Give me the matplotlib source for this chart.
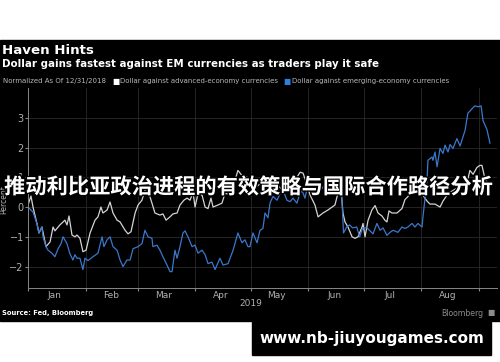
import numpy as np
import pandas as pd
import matplotlib
matplotlib.use('Agg')
import matplotlib.pyplot as plt
import matplotlib.dates as mdates
import matplotlib.patheffects as pe
from matplotlib.patches import Rectangle

# days since 2018-12-31 close and % change
adv_days = [0, 1.6, 2.7, 4.8, 5.9, 7.5, 9.7, 11.9, 13.5, 14.5, 17.2, 19.9, 21, 22.1, 23.7,
            25.3, 26.4, 28, 29.6, 31.3, 33.4, 36.1, 37.7, 39.3, 40.4, 42.6, 44.2, 45.8, 48,
            49.6, 52.3, 53.9, 55.5, 57.7, 59.3, 61.4, 63, 65.2, 66.8, 68.4, 71.1, 72.7, 74.4,
            76.5, 78.1, 80.3, 81.9, 84, 85.7, 87.3, 88.9, 90, 91.6, 93.8, 95.4, 97, 98.6,
            99.7, 102.4, 104.5, 106.1, 108.8, 110.5, 113.1, 115.3, 118, 119.6, 123.4, 126.6,
            130.4, 134.2, 137.4, 141.2, 143.9, 146.6, 148.2, 150.4, 152, 154.6, 156.3, 158.9,
            161.6, 165.4, 167, 168.6, 169.7, 170.8, 172.4, 174.6, 176.2, 177.8, 180, 180.5,
            181.6, 183.2, 185.3, 187, 188.6, 190.7, 192.4, 193.4, 194.5, 196.1, 198.8, 201.5,
            203.1, 204.7, 206.9, 210.1, 212.8, 215, 216.6, 219.3, 222, 223.6, 226.3, 230.1,
            233.8, 236.5, 238.1, 239.8, 241.9, 243.5, 244.6, 246.2, 247.8, 248.9]
adv_vals = [0.07, 0.37, 0.0, -0.55, -0.87, -0.67, -1.33, -1.17, -0.67, -0.8, -0.6, -0.44, -0.6,
            -0.3, -0.94, -1.0, -0.94, -1.05, -1.5, -1.45, -0.88, -0.44, -0.33, 0.0, -0.2, -0.1,
            0.17, -0.2, -0.44, -0.5, -0.78, -0.9, -0.83, -0.2, 0.07, 0.23, 0.57, 0.45, 0.13,
            -0.2, -0.27, -0.23, -0.44, -0.33, -0.23, -0.2, 0.07, 0.23, 0.3, 0.23, 0.5, 0.0,
            0.45, 0.4, 0.0, -0.05, 0.3, 0.0, 0.07, 0.13, 0.45, 0.45, 0.67, 1.23, 1.06, 1.0,
            0.9, 0.7, 0.85, 0.6, 0.75, 0.55, 0.8, 0.9, 1.17, 1.14, 0.74, 0.4, 0.07, -0.33,
            -0.2, -0.1, 0.07, 0.47, 0.67, -0.2, -0.5, -0.67, -1.0, -1.05, -1.0, -0.67, -0.55,
            -1.0, -0.45, -0.1, 0.05, -0.2, -0.3, -0.45, -0.5, -0.13, -0.2, -0.2, -0.05, 0.25,
            0.35, 0.57, 0.6, 0.4, 0.2, 0.1, 0.1, 0.0, 0.2, 0.45, 0.6, 0.7, 0.8, 1.23, 1.1,
            1.33, 1.4, 1.4, 0.95, 0.8, 0.7]

em_days = [0, 2.7, 4.8, 5.9, 7.5, 8.1, 9.7, 10.8, 12.9, 14.5, 16.2, 17.8, 18.9, 21, 22.6,
           24.2, 25.3, 26.4, 28, 29.6, 30.7, 32.3, 35, 37.7, 39.9, 40.9, 42.6, 44.2, 45.8, 48,
           49.6, 51.2, 53.3, 55, 56.6, 59.3, 61.4, 63, 64.7, 66.8, 67.3, 69.5, 71.1, 72.7,
           74.9, 76.5, 77.6, 79.2, 80.3, 81.9, 83.5, 84.6, 86.2, 88.4, 90, 91.6, 93.8, 95.4,
           97, 99.1, 100.8, 103.4, 105.1, 107.8, 110.5, 113.1, 115.3, 116.9, 118.5, 119.6,
           121.2, 123.4, 125, 126.6, 127.7, 129.3, 130.4, 132, 134.2, 135.8, 137.4, 139.5,
           141.2, 142.8, 144.9, 146, 147.6, 149.2, 150.9, 153, 155.2, 157.3, 160, 162.7,
           165.4, 168.1, 169.1, 170, 171.7, 173.3, 174.9, 177.1, 178.7, 180.3, 182.6, 184.3,
           185.9, 188, 189.7, 191.3, 193.4, 195.1, 196.7, 199.3, 201.5, 203.1, 204.7, 206.9,
           208.5, 210.1, 212.3, 212.8, 215, 215.5, 217.7, 218.2, 219.3, 220.4, 222, 223.6,
           224.7, 226.3, 227.4, 229, 231.1, 232.8, 235.5, 237, 239.2, 240.8, 242.5, 244.1,
           245.2, 247.3, 248.9]
em_vals = [0.0, -0.17, -0.55, -0.87, -0.67, -1.0, -1.33, -1.45, -1.55, -1.67, -1.4, -1.23,
           -1.0, -1.23, -1.57, -1.78, -1.6, -1.72, -1.72, -2.1, -1.72, -1.8, -1.67, -1.55,
           -1.0, -1.33, -1.1, -1.0, -1.33, -1.45, -1.78, -2.0, -1.78, -1.78, -1.4, -1.33,
           -1.23, -0.78, -1.0, -1.05, -1.33, -1.28, -1.45, -1.67, -1.95, -2.17, -2.17, -1.45,
           -1.72, -1.33, -0.87, -0.8, -1.0, -1.33, -1.28, -1.55, -1.45, -1.6, -1.9, -1.85,
           -2.1, -1.72, -1.95, -1.9, -1.45, -0.87, -1.2, -1.1, -1.33, -1.33, -0.87, -1.2,
           -0.78, -0.72, -0.2, -0.36, 0.13, 0.36, 0.23, 0.45, 0.57, 0.23, 0.18, 0.3, 0.13,
           0.36, 0.57, 0.3, 0.75, 0.6, 0.9, 0.55, 0.75, 0.5, 0.7, 0.45, 0.3, -0.87, -0.67,
           -0.6, -0.7, -0.67, -1.0, -0.7, -0.7, -0.8, -0.9, -0.55, -0.78, -0.7, -0.95, -0.85,
           -0.78, -0.85, -0.67, -0.72, -0.67, -0.55, -0.67, -0.55, -0.67, -0.33, 0.9, 1.57,
           1.68, 1.57, 1.85, 1.35, 1.97, 1.8, 2.08, 1.85, 2.1, 1.97, 2.3, 2.05, 2.58, 3.15,
           3.3, 3.4, 3.37, 3.4, 2.9, 2.6, 2.15]

title = 'Haven Hints'
subtitle = 'Dollar gains fastest against EM currencies as traders play it safe'
overlay = '推动利比亚政治进程的有效策略与国际合作路径分析'

start = pd.Timestamp('2019-01-01')
adv_x = start + pd.to_timedelta(adv_days, unit='D')
em_x = start + pd.to_timedelta(em_days, unit='D')

fig = plt.figure(figsize=(5, 3.62), dpi=100, facecolor='white')
# black chart panel (behind the axes)
fig.patches.append(Rectangle((0, 1 - 321 / 362), 1, (321 - 40) / 362,
                             transform=fig.transFigure, color='black', zorder=-10))

ax = fig.add_axes([0.056, 0.2044, 0.938, 0.5525])
ax.set_zorder(1)
ax.set_facecolor('black')
ax.plot(adv_x, adv_vals, color='#d4d4d4', lw=0.9)
ax.plot(em_x, em_vals, color='#3a78cc', lw=0.9)

ax.set_xlim(start, start + pd.Timedelta(days=252.7))
ax.set_ylim(-2.72, 4.0)
ax.set_yticks([-2, -1, 0, 1, 2, 3])

ax.xaxis.set_major_locator(mdates.MonthLocator())
ax.xaxis.set_major_formatter(plt.NullFormatter())
ax.xaxis.set_minor_locator(mdates.MonthLocator(bymonthday=15))
ax.xaxis.set_minor_formatter(mdates.DateFormatter('%b'))
ax.tick_params(axis='x', which='major', length=2, color='#888888')
ax.tick_params(axis='x', which='minor', length=0, labelsize=6.5, colors='#b0b0b0', pad=2)
ax.tick_params(axis='y', length=2, color='#888888', labelsize=7, labelcolor='#b0b0b0', pad=1)

ax.grid(True, which='major', color='#2b2b2b', lw=0.6)
for s in ['top', 'right']:
    ax.spines[s].set_visible(False)
for s in ['left', 'bottom']:
    ax.spines[s].set_color('#888888')
    ax.spines[s].set_linewidth(0.7)
ax.set_ylabel('Percent', color='#b0b0b0', fontsize=5.5, labelpad=1)
ax.yaxis.set_label_coords(-0.042, 0.44)

ax.text(start + pd.Timedelta(days=120), -3.25, '2019', color='#b0b0b0', fontsize=6.5,
        ha='center', va='center', clip_on=False)

# header
fig.text(0.004, 1 - 50 / 362, title, color='white', fontsize=9.6, fontweight='bold', va='center')
fig.text(0.004, 1 - 64 / 362, subtitle, color='white', fontsize=7.4, fontweight='bold', va='center')
fig.text(0.006, 1 - 81.5 / 362, 'Normalized As Of 12/31/2018', color='#b8b8b8', fontsize=5.0, va='center')
fig.text(0.225, 1 - 81.5 / 362, '■', color='white', fontsize=5.5, va='center')
fig.text(0.241, 1 - 81.5 / 362, 'Dollar against advanced-economy currencies', color='#b8b8b8',
         fontsize=5.0, va='center')
fig.text(0.567, 1 - 81.5 / 362, '■', color='#2f7de0', fontsize=5.5, va='center')
fig.text(0.583, 1 - 81.5 / 362, 'Dollar against emerging-economy currencies', color='#b8b8b8',
         fontsize=5.0, va='center')

# footer
fig.text(0.004, 1 - 313 / 362, 'Source: Fed, Bloomberg', color='white', fontsize=4.9,
         fontweight='bold', va='center')
fig.text(0.966, 1 - 313 / 362, 'Bloomberg', color='#8c8c8c', fontsize=5.6,
         va='center', ha='right')
fig.text(0.975, 1 - 313 / 362, '■', color='#8c8c8c', fontsize=5.6, va='center')

# overlay headline
fig.text(0.497, 1 - 187 / 362, overlay, color='white', fontsize=15.3, fontweight='bold',
         ha='center', va='center', family=['Noto Sans CJK SC', 'DejaVu Sans'], zorder=5,
         path_effects=[pe.withStroke(linewidth=2, foreground='black')])

# watermark box
fig.patches.append(Rectangle((252 / 500, 1 - 355 / 362), 239 / 500, 33 / 362,
                             transform=fig.transFigure, color='black', zorder=-10))
fig.text(0.743, 1 - 338 / 362, 'www.nb-jiuyougames.com', color='white', fontsize=11,
         fontweight='bold', ha='center', va='center')

fig.savefig('out.png', dpi=100, facecolor='white')
